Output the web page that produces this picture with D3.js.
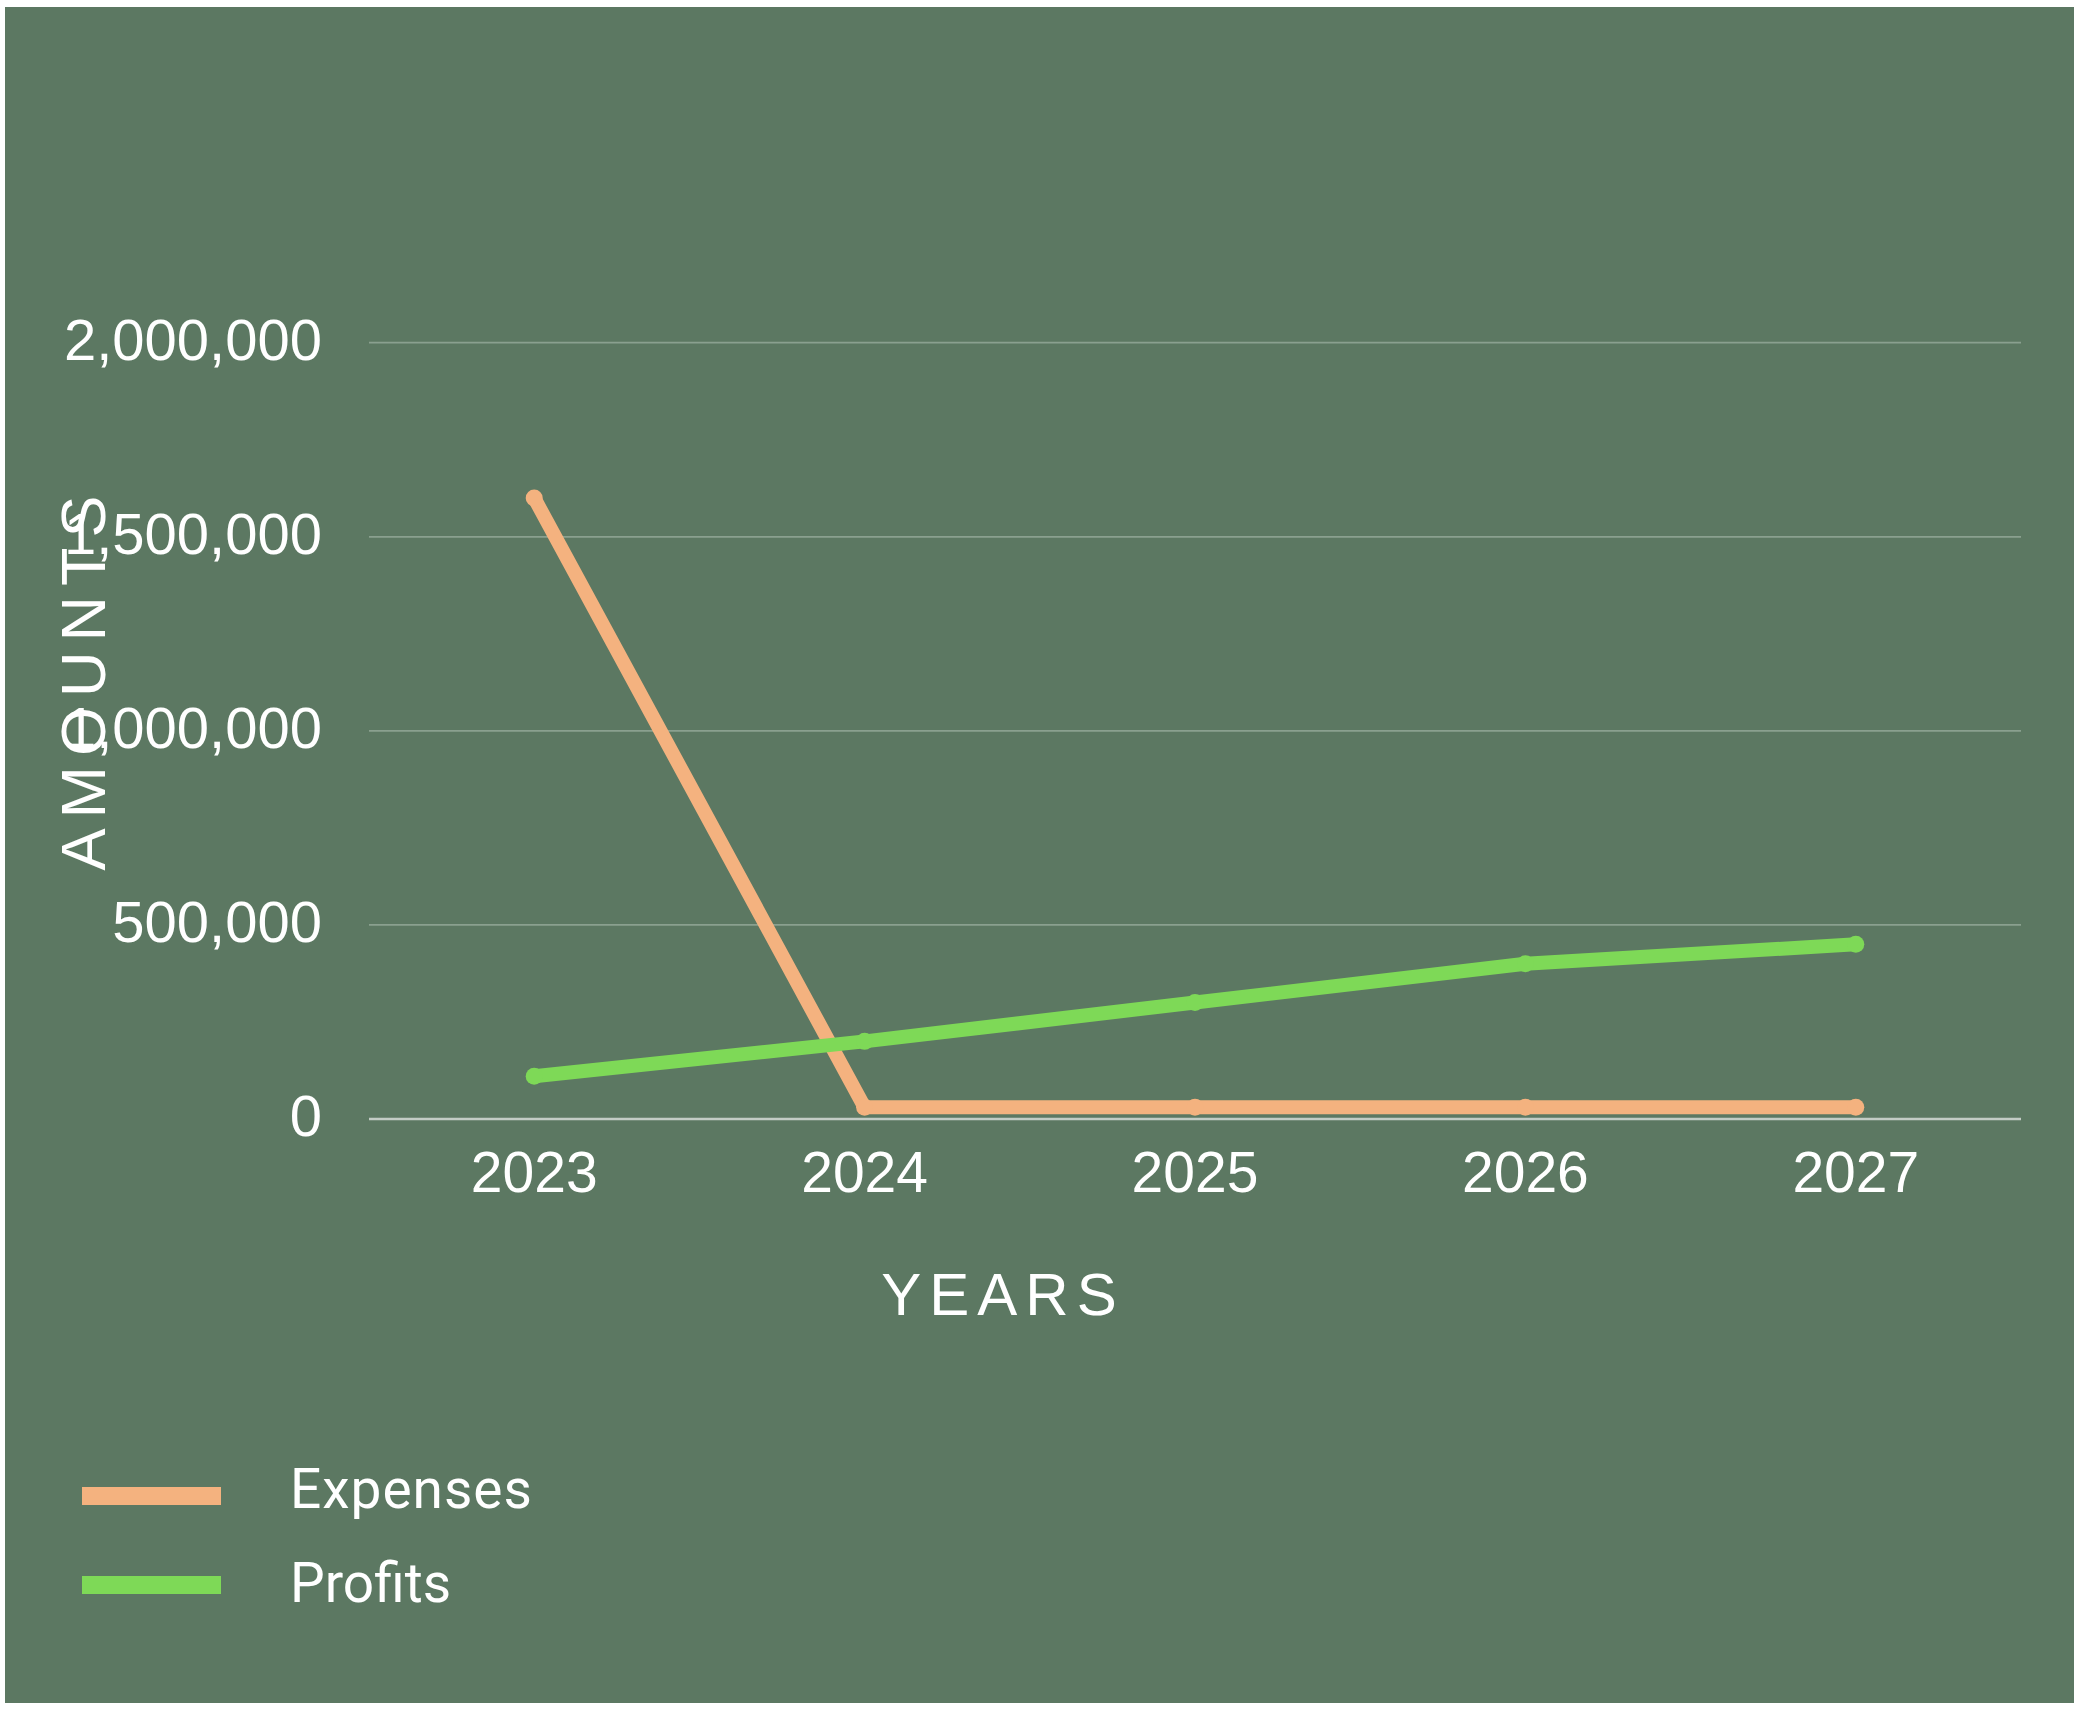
<!DOCTYPE html>
<html>
<head>
<meta charset="utf-8">
<script src="https://cdn.jsdelivr.net/npm/d3@7"></script>
<style>
  html, body { margin: 0; padding: 0; background: #ffffff; }
  svg { display: block; }
</style>
</head>
<body>
<div id="chart"></div>
<script>
var years = ["2023", "2024", "2025", "2026", "2027"];
var expenses = [1600000, 30000, 30000, 30000, 30000];
var profits = [110000, 200000, 300000, 400000, 450000];
var yTicks = [0, 500000, 1000000, 1500000, 2000000];
var seriesNames = ["Expenses", "Profits"];
var seriesColors = ["#f4b27f", "#7ed957"];

var width = 2074, height = 1709;
var margin = { left: 369, right: 2021, top: 342.7, bottom: 1119 };

var svg = d3.select("#chart").append("svg")
  .attr("width", width)
  .attr("height", height);

svg.append("rect")
  .attr("x", 5).attr("y", 7)
  .attr("width", width - 5).attr("height", 1696)
  .attr("fill", "#5c7862");

var x = d3.scalePoint().domain(years).range([margin.left, margin.right]).padding(0.5);
var y = d3.scaleLinear().domain([0, 2000000]).range([margin.bottom, margin.top]);

// gridlines
svg.append("g")
  .selectAll("line")
  .data(yTicks)
  .join("line")
  .attr("x1", margin.left).attr("x2", margin.right)
  .attr("y1", (d) => y(d)).attr("y2", (d) => y(d))
  .attr("stroke", (d) => d === 0 ? "#c3ccc5" : "#8aa08f")
  .attr("stroke-width", (d) => d === 0 ? 2.5 : 1.8);

// y tick labels
svg.append("g")
  .selectAll("text")
  .data(yTicks)
  .join("text")
  .attr("x", 322)
  .attr("y", (d) => y(d) + 17)
  .attr("text-anchor", "end")
  .attr("fill", "#ffffff")
  .style("font-family", "'Liberation Sans', Arial, sans-serif")
  .style("font-size", "58px")
  .text((d) => d3.format(",")(d));

// x tick labels
svg.append("g")
  .selectAll("text")
  .data(years)
  .join("text")
  .attr("x", (d) => x(d))
  .attr("y", 1192)
  .attr("text-anchor", "middle")
  .attr("fill", "#ffffff")
  .style("font-family", "'Liberation Sans', Arial, sans-serif")
  .style("font-size", "57px")
  .text((d) => d);

// axis titles
svg.append("text")
  .attr("x", 1003)
  .attr("y", 1315)
  .attr("text-anchor", "middle")
  .attr("fill", "#ffffff")
  .style("font-family", "'Liberation Sans', Arial, sans-serif")
  .style("font-size", "60px")
  .style("letter-spacing", "8px")
  .text("YEARS");

svg.append("text")
  .attr("transform", "translate(105,678) rotate(-90)")
  .attr("text-anchor", "middle")
  .attr("fill", "#ffffff")
  .style("font-family", "'Liberation Sans', Arial, sans-serif")
  .style("font-size", "63px")
  .style("letter-spacing", "10px")
  .text("AMOUNTS");

// lines
var line = d3.line()
  .x((d, i) => x(years[i]))
  .y((d) => y(d));

[expenses, profits].forEach((vals, k) => {
  svg.append("path")
    .datum(vals)
    .attr("d", line)
    .attr("fill", "none")
    .attr("stroke", seriesColors[k])
    .attr("stroke-width", 14)
    .attr("stroke-linejoin", "round")
    .attr("stroke-linecap", "round");
  svg.append("g")
    .selectAll("circle")
    .data(vals)
    .join("circle")
    .attr("cx", (d, i) => x(years[i]))
    .attr("cy", (d) => y(d))
    .attr("r", 8.5)
    .attr("fill", seriesColors[k]);
});

// legend
var legend = svg.append("g")
  .selectAll("g")
  .data(seriesNames)
  .join("g")
  .attr("transform", (d, i) => "translate(0," + (i * 89) + ")");

legend.append("rect")
  .attr("x", 82).attr("y", 1487)
  .attr("width", 139).attr("height", 18)
  .attr("fill", (d, i) => seriesColors[i]);

legend.append("text")
  .attr("x", 290)
  .attr("y", (d, i) => i === 0 ? 1508 : 1513)
  .attr("fill", "#ffffff")
  .style("font-family", "Roboto, 'Liberation Sans', sans-serif")
  .style("font-size", "55px")
  .style("letter-spacing", (d, i) => i === 0 ? "1px" : "0px")
  .text((d) => d);
</script>
</body>
</html>
